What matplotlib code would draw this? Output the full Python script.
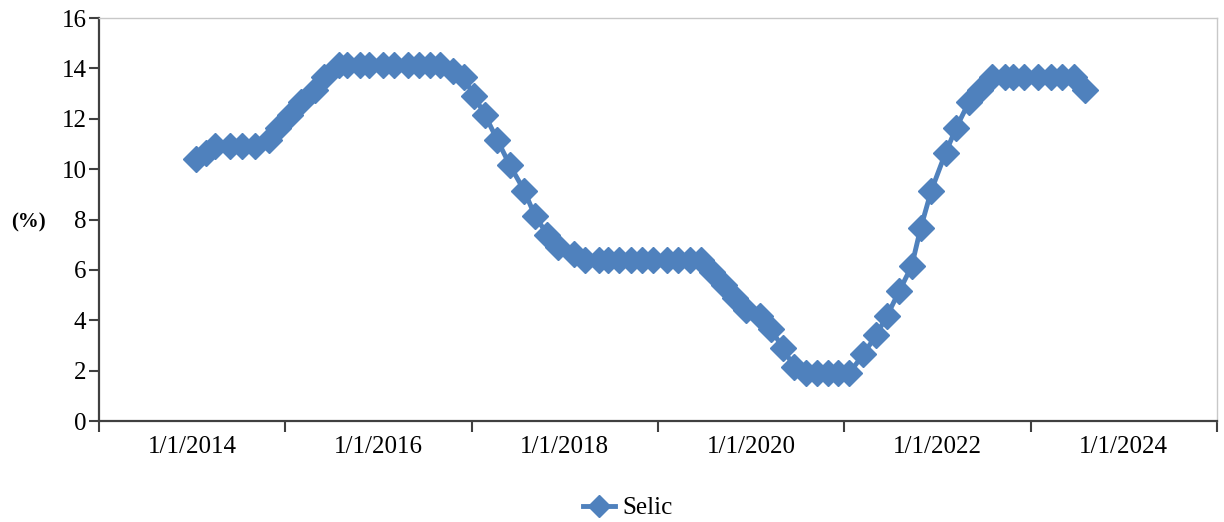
import matplotlib
matplotlib.use("Agg")
import matplotlib.pyplot as plt
import matplotlib.dates as mdates
import pandas as pd

plt.rcParams['font.family'] = ['Liberation Serif', 'DejaVu Serif']

# === Selic (effective, % a.a.) after each Copom meeting
copom_dates = [
    '2014-01-15', '2014-02-26', '2014-04-02', '2014-05-28', '2014-07-16', '2014-09-03', '2014-10-29', '2014-12-03',
    '2015-01-21', '2015-03-04', '2015-04-29', '2015-06-03', '2015-07-29', '2015-09-02', '2015-10-21', '2015-11-25',
    '2016-01-20', '2016-03-02', '2016-04-27', '2016-06-08', '2016-07-20', '2016-08-31', '2016-10-19', '2016-11-30',
    '2017-01-11', '2017-02-22', '2017-04-12', '2017-05-31', '2017-07-26', '2017-09-06', '2017-10-25', '2017-12-06',
    '2018-02-07', '2018-03-21', '2018-05-16', '2018-06-20', '2018-08-01', '2018-09-19', '2018-10-31', '2018-12-12',
    '2019-02-06', '2019-03-20', '2019-05-08', '2019-06-19', '2019-07-31', '2019-09-18', '2019-10-30', '2019-12-11',
    '2020-02-05', '2020-03-18', '2020-05-06', '2020-06-17', '2020-08-05', '2020-09-16', '2020-10-28', '2020-12-09',
    '2021-01-20', '2021-03-17', '2021-05-05', '2021-06-16', '2021-08-04', '2021-09-22', '2021-10-27', '2021-12-08',
    '2022-02-02', '2022-03-16', '2022-05-04', '2022-06-15', '2022-08-03', '2022-09-21', '2022-10-26', '2022-12-07',
    '2023-02-01', '2023-03-22', '2023-05-03', '2023-06-21', '2023-08-02',
]
selic = [
    10.40, 10.65, 10.90, 10.90, 10.90, 10.90, 11.15, 11.65,
    12.15, 12.65, 13.15, 13.65, 14.15, 14.15, 14.15, 14.15,
    14.15, 14.15, 14.15, 14.15, 14.15, 14.15, 13.90, 13.65,
    12.90, 12.15, 11.15, 10.15, 9.15, 8.15, 7.40, 6.90,
    6.65, 6.40, 6.40, 6.40, 6.40, 6.40, 6.40, 6.40,
    6.40, 6.40, 6.40, 6.40, 5.90, 5.40, 4.90, 4.40,
    4.15, 3.65, 2.90, 2.15, 1.90, 1.90, 1.90, 1.90,
    1.90, 2.65, 3.40, 4.15, 5.15, 6.15, 7.65, 9.15,
    10.65, 11.65, 12.65, 13.15, 13.65, 13.65, 13.65, 13.65,
    13.65, 13.65, 13.65, 13.65, 13.15,
]
tick_years = [2013, 2015, 2017, 2019, 2021, 2023, 2025]
label_years = [2014, 2016, 2018, 2020, 2022, 2024]
x_labels = ['1/1/2014', '1/1/2016', '1/1/2018', '1/1/2020', '1/1/2022', '1/1/2024']

dates = pd.to_datetime(copom_dates)
blue = '#4F81BD'

fig = plt.figure(figsize=(12.24, 5.22), dpi=100)
ax = fig.add_axes([99 / 1224, 1 - 421 / 522, (1217 - 99) / 1224, (421 - 18) / 522])

ax.plot(dates, selic, color=blue, lw=3.5, marker='D', ms=13.5, mec=blue, mew=1, label='Selic')

ax.set_ylim(0, 16)
ax.set_yticks(range(0, 17, 2))
ax.set_xlim(pd.Timestamp('2013-01-01'), pd.Timestamp('2025-01-01'))

# tick marks at odd years, date labels in between
ax.set_xticks([mdates.date2num(pd.Timestamp(f'{y}-01-01')) for y in tick_years])
ax.set_xticklabels([])
ax.set_xticks([mdates.date2num(pd.Timestamp(f'{y}-01-01')) for y in label_years], minor=True)
ax.set_xticklabels(x_labels, minor=True)

ax.tick_params(axis='x', which='major', direction='out', length=8, width=1.5, color='#404040')
ax.tick_params(axis='x', which='minor', length=0, pad=11, labelsize=18)
ax.tick_params(axis='y', direction='out', length=7, width=1.5, color='#404040', pad=2, labelsize=18)

for side in ['left', 'bottom']:
    ax.spines[side].set_color('#404040')
    ax.spines[side].set_linewidth(1.6)
for side in ['top', 'right']:
    ax.spines[side].set_color('#C8C8C8')
    ax.spines[side].set_linewidth(1)

fig.text(28 / 1224, 1 - 222 / 522, '(%)', ha='center', va='center', fontsize=15, fontweight='bold')

fig.legend(loc='center', bbox_to_anchor=(628 / 1224, 1 - 508 / 522), frameon=False,
           fontsize=18, handlelength=1.3, handletextpad=0.3, markerscale=0.8)

fig.savefig('out.png', dpi=100)
plt.close()
